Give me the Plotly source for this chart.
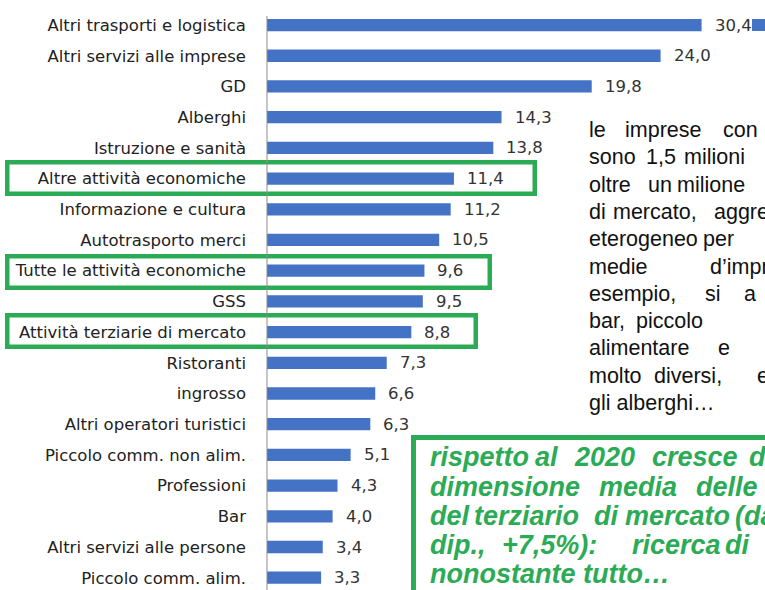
import plotly.graph_objects as go

# ---- data ----
categories = [
    "Altri trasporti e logistica", "Altri servizi alle imprese", "GD", "Alberghi",
    "Istruzione e sanità", "Altre attività economiche", "Informazione e cultura",
    "Autotrasporto merci", "Tutte le attività economiche", "GSS",
    "Attività terziarie di mercato", "Ristoranti", "ingrosso",
    "Altri operatori turistici", "Piccolo comm. non alim.", "Professioni", "Bar",
    "Altri servizi alle persone", "Piccolo comm. alim.",
]
values = [30.4, 24.0, 19.8, 14.3, 13.8, 11.4, 11.2, 10.5, 9.6, 9.5,
          8.8, 7.3, 6.6, 6.3, 5.1, 4.3, 4.0, 3.4, 3.3]
highlighted = ["Altre attività economiche", "Tutte le attività economiche",
               "Attività terziarie di mercato"]

right_text_lines = [
    ["le", "imprese", "con"],
    ["sono", "1,5", "milioni"],
    ["oltre", "un", "milione"],
    ["di", "mercato,", "aggregato"],
    ["eterogeneo", "per"],
    ["medie", "d’impresa"],
    ["esempio,", "si", "a"],
    ["bar,", "piccolo"],
    ["alimentare", "e"],
    ["molto", "diversi,", "e"],
    ["gli alberghi…"],
]
box_text_lines = [
    ["rispetto", "al", "2020", "cresce", "della"],
    ["dimensione", "media", "delle"],
    ["del", "terziario", "di", "mercato", "(da"],
    ["dip.,", "+7,5%):", "ricerca", "di"],
    ["nonostante tutto…"],
]

# ---- style / layout (pixels) ----
W, H = 765, 590
ML, MR, MT, MB = 267, 0, 10, 0
BLUE = "#4472c4"
GREEN = "#2bab55"
FONT = "DejaVu Sans"
TEXT_FONT = "Liberation Sans"
AXIS_BREAK = 26.5          # long bar drawn with a broken axis
PX_PER_UNIT = 16.4

right_word_x = [
    [587, 623, 721], [587, 644, 682], [587, 646, 675], [587, 611, 712],
    [587, 701], [587, 708], [587, 703, 742], [587, 634], [587, 716],
    [587, 652, 755], [587],
]
right_y0, right_pitch = 130, 27.3
box_word_x = [
    [428, 533, 572, 650, 747], [428, 597, 694], [428, 472, 592, 623, 733],
    [428, 500, 630, 723], [428],
]
box_y = [457, 487, 516, 545, 574]

pw, ph = W - ML - MR, H - MT - MB


def px(x):
    return (x - ML) / pw


def py(y):
    return (H - MB - y) / ph


def fmt(v):
    return f"{v:.1f}".replace(".", ",")


shown = [min(v, AXIS_BREAK) for v in values]

fig = go.Figure(go.Bar(
    x=shown, y=categories, orientation="h",
    marker=dict(color=BLUE, line=dict(width=0)),
    hoverinfo="skip",
))

annotations = []
for c, v, s in zip(categories, values, shown):
    annotations.append(dict(
        x=s, y=c, xref="x", yref="y", text=fmt(v), showarrow=False,
        xanchor="left", yanchor="middle", xshift=11,
        font=dict(family=FONT, size=16.5, color="#333333"),
    ))

for i, words in enumerate(right_text_lines):
    for w, x in zip(words, right_word_x[i]):
        annotations.append(dict(
            x=px(x), y=py(right_y0 + i * right_pitch), xref="paper", yref="paper",
            text=w, showarrow=False, xanchor="left", yanchor="middle",
            font=dict(family=TEXT_FONT, size=21.5, color="#111111"),
        ))

for i, words in enumerate(box_text_lines):
    for w, x in zip(words, box_word_x[i]):
        annotations.append(dict(
            x=px(x), y=py(box_y[i]), xref="paper", yref="paper",
            text=w, showarrow=False, xanchor="left", yanchor="middle",
            font=dict(family=TEXT_FONT, size=27, color=GREEN, weight="bold",
                      style="italic"),
        ))

shapes = []
# highlight boxes (outer pixel edges)
hl_boxes = {
    "Altre attività economiche": (5, 160, 537, 196),
    "Tutte le attività economiche": (5, 254, 492, 290),
    "Attività terziarie di mercato": (5, 313, 478, 349),
}
LW = 4.5
for name in highlighted:
    x0, y0, x1, y1 = hl_boxes[name]
    shapes.append(dict(
        type="rect", xref="paper", yref="paper",
        x0=px(x0 + LW / 2), x1=px(x1 - LW / 2), y0=py(y0 + LW / 2), y1=py(y1 - LW / 2),
        line=dict(color=GREEN, width=LW), fillcolor="rgba(0,0,0,0)", layer="above",
    ))
# comment box at bottom right
shapes.append(dict(
    type="rect", xref="paper", yref="paper",
    x0=px(413.5), x1=px(820), y0=py(437.5), y1=py(650),
    line=dict(color=GREEN, width=5), fillcolor="white", layer="below",
))
# continuation of the broken long bar
shapes.append(dict(
    type="rect", xref="paper", yref="paper",
    x0=px(752), x1=px(770), y0=py(31), y1=py(19),
    line=dict(width=0), fillcolor=BLUE, layer="above",
))
# axis line (starts a little below the top of the plot area)
shapes.append(dict(
    type="line", xref="paper", yref="paper",
    x0=0, x1=0, y0=0, y1=py(16),
    line=dict(color="#8c8c8c", width=1), layer="above",
))

fig.update_layout(
    width=W, height=H,
    margin=dict(l=ML, r=MR, t=MT, b=MB, pad=0),
    paper_bgcolor="white", plot_bgcolor="white",
    showlegend=False, bargap=0.6,
    xaxis=dict(range=[0, pw / PX_PER_UNIT], visible=False, fixedrange=True),
    yaxis=dict(
        categoryorder="array", categoryarray=categories,
        range=[18.4, -0.49], showgrid=False, zeroline=False,
        showline=False,
        ticks="", ticklabelstandoff=20,
        tickfont=dict(family=FONT, size=16.5, color="#222222"),
        fixedrange=True,
    ),
    annotations=annotations,
    shapes=shapes,
)

fig.write_html("out.html", config={"displayModeBar": False},
               post_script="document.body.style.margin='0px';")
